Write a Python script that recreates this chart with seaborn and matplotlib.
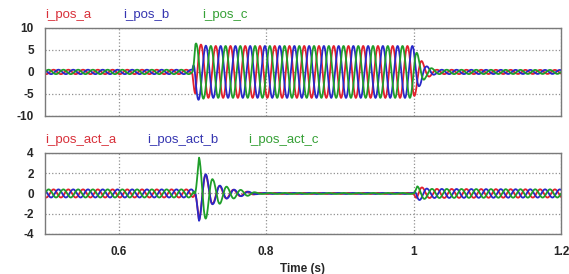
import numpy as np
import pandas as pd
import seaborn as sns
import matplotlib.pyplot as plt

sns.set_style('white')
plt.rcParams['font.family'] = ['Liberation Sans', 'DejaVu Sans']
plt.rcParams['axes.unicode_minus'] = False

phases = ['a', 'b', 'c']
phase_deg = [-120, 120, 0]
colors = ['#e3202c', '#2828c8', '#1f9e2a']
label_colors = ['#d8303a', '#3535b0', '#35a035']
freq = 50.0

# amplitude of i_pos (time s, amplitude)
pos_env_t = [0.5, 0.7, 0.704, 0.72, 1.0, 1.008, 1.016, 1.03, 1.2]
pos_env_amp = [0.5, 0.5, 6.5, 5.9, 5.9, 3.2, 1.4, 0.5, 0.45]

# steady amplitude of i_pos_act
act_env_t = [0.5, 0.7, 0.706, 0.8, 1.0, 1.005, 1.02, 1.2]
act_env_amp = [0.4, 0.4, 0.1, 0.05, 0.05, 0.7, 0.45, 0.4]

# transient peaks of i_pos_act after the step at 0.7 s
act_peak_t = [0.702, 0.709, 0.728, 0.748, 0.768, 0.79]
act_peak_a = [0.0, -2.7, -1.0, -0.45, -0.2, 0.0]
act_peak_b = [0.0, -2.6, -0.95, -0.4, -0.2, 0.0]
act_peak_c = [0.0, 3.5, 1.3, 0.55, 0.25, 0.0]
act_peaks = [act_peak_a, act_peak_b, act_peak_c]

t = np.arange(0.5, 1.2, 1e-4)
rows_pos, rows_act = [], []
f_tr = 1.0 / (act_peak_t[2] - act_peak_t[1])
for ph, deg, pk in zip(phases, phase_deg, act_peaks):
    w = np.sin(2 * np.pi * freq * t + np.deg2rad(deg))
    ip = np.interp(t, pos_env_t, pos_env_amp) * w
    tr = np.interp(t, act_peak_t, pk) * np.cos(2 * np.pi * f_tr * (t - act_peak_t[1]))
    ia = np.interp(t, act_env_t, act_env_amp) * w + tr
    rows_pos.append(pd.DataFrame({'t': t, 'i': ip, 'phase': ph}))
    rows_act.append(pd.DataFrame({'t': t, 'i': ia, 'phase': ph}))
df_pos = pd.concat(rows_pos)
df_act = pd.concat(rows_act)

fig = plt.figure(figsize=(5.69, 2.74), dpi=100)
ax1 = fig.add_axes([0.079, 0.577, 0.907, 0.321])
ax2 = fig.add_axes([0.079, 0.146, 0.907, 0.296])

pal = dict(zip(phases, colors))
sns.lineplot(data=df_pos, x='t', y='i', hue='phase', palette=pal, estimator=None,
             sort=False, lw=1.3, legend=False, ax=ax1)
sns.lineplot(data=df_act, x='t', y='i', hue='phase', palette=pal, estimator=None,
             sort=False, lw=1.3, legend=False, ax=ax2)

ax1.set_ylim(-10, 10)
ax1.set_yticks([-10, -5, 0, 5, 10])
ax2.set_ylim(-4, 4)
ax2.set_yticks([-4, -2, 0, 2, 4])
for ax in (ax1, ax2):
    ax.set_xlim(0.5, 1.2)
    ax.set_xticks([0.6, 0.8, 1.0, 1.2])
    ax.grid(True, ls=':', color='#909090', lw=0.9)
    ax.set_axisbelow(True)
    ax.set_ylabel('')
    ax.set_xlabel('')
    for s in ax.spines.values():
        s.set_color('#7a7a7a')
        s.set_linewidth(1.0)
    ax.tick_params(axis='y', length=0, labelsize=8.5, pad=8)
    ax.tick_params(axis='x', length=0, labelsize=8.5, pad=9)
    for lab in ax.get_yticklabels():
        lab.set_fontweight('bold')
ax1.set_xticklabels([])
ax2.set_xticklabels(['0.6', '0.8', '1', '1.2'], fontweight='bold')
ax2.set_xlabel('Time (s)', fontsize=8.5, fontweight='bold', labelpad=3)

for x, txt, c in zip([45, 123, 202], ['i_pos_a', 'i_pos_b', 'i_pos_c'], label_colors):
    fig.text(x / 569, 1 - 15 / 274, txt, color=c, fontsize=9.5, va='center')
for x, txt, c in zip([45, 147, 248], ['i_pos_act_a', 'i_pos_act_b', 'i_pos_act_c'], label_colors):
    fig.text(x / 569, 1 - 140 / 274, txt, color=c, fontsize=9.5, va='center')

fig.savefig('out.png', dpi=100)
